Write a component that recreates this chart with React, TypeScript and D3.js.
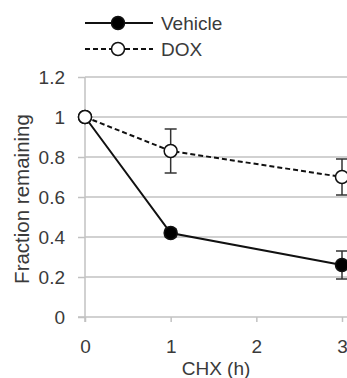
import React, { useEffect, useRef } from "react";
import * as d3 from "d3";

const hours = [0, 1, 3];
const vehicle = [1, 0.42, 0.26];
const vehicleErr = [0, 0.02, 0.07];
const dox = [1, 0.83, 0.7];
const doxErr = [0, 0.11, 0.09];
const yTicks = [0, 0.2, 0.4, 0.6, 0.8, 1, 1.2];
const xTicks = [0, 1, 2, 3];

const W = 347;
const H = 378;

const App = () => {
  const svgRef = useRef<SVGSVGElement>(null);

  useEffect(() => {
    const svg = d3.select(svgRef.current);
    svg.selectAll("*").remove();

    const x = d3.scaleLinear().domain([0, 3]).range([85, 342]);
    const y = d3.scaleLinear().domain([0, 1.2]).range([317, 77]);
    const font = "Liberation Sans, Arial, sans-serif";
    const grid = "#c2c2c2";
    const textCol = "#3a3a3a";

    // gridlines
    svg
      .append("g")
      .selectAll("line")
      .data(yTicks.filter((d) => d > 0))
      .enter()
      .append("line")
      .attr("x1", x(0))
      .attr("x2", 347)
      .attr("y1", (d) => y(d))
      .attr("y2", (d) => y(d))
      .attr("stroke", grid)
      .attr("stroke-width", 1.5);

    // axes
    const yAxis = svg.append("g").attr("transform", `translate(${x(0)},0)`);
    yAxis
      .call(d3.axisLeft(y).tickValues(yTicks).tickSize(7).tickPadding(13).tickFormat((d) => d3.format("")(+d)))
      .call((g) => g.select(".domain").attr("stroke", grid).attr("stroke-width", 1.5).attr("d", `M0,${y(0) + 5}V${y(1.2)}`));
    yAxis.selectAll(".tick line").attr("stroke", grid).attr("stroke-width", 1.5);

    const xAxis = svg.append("g").attr("transform", `translate(0,${y(0)})`);
    xAxis
      .call(d3.axisBottom(x).tickValues(xTicks).tickSize(5).tickPadding(18).tickFormat((d) => String(d)))
      .call((g) => g.select(".domain").attr("stroke", grid).attr("stroke-width", 1.5).attr("d", `M${x(0) - 7},0H347`));
    xAxis.selectAll(".tick line").attr("stroke", grid).attr("stroke-width", 1.5);

    svg
      .selectAll(".tick text")
      .attr("font-family", font)
      .attr("font-size", 19)
      .attr("fill", textCol);

    // axis titles
    svg
      .append("text")
      .attr("x", 216)
      .attr("y", 375)
      .attr("text-anchor", "middle")
      .attr("font-family", font)
      .attr("font-size", 19)
      .attr("fill", textCol)
      .text("CHX (h)");

    svg
      .append("text")
      .attr("transform", "translate(29,199) rotate(-90)")
      .attr("text-anchor", "middle")
      .attr("font-family", font)
      .attr("font-size", 20.5)
      .attr("fill", textCol)
      .text("Fraction remaining");

    const series = [
      { vals: vehicle, err: vehicleErr, dash: null, fill: "#000" },
      { vals: dox, err: doxErr, dash: "5,3", fill: "#fff" },
    ];

    const line = d3
      .line<number>()
      .x((_, i) => x(hours[i]))
      .y((d) => y(d));

    series.forEach((s) => {
      const g = svg.append("g");
      // error bars
      s.vals.forEach((v, i) => {
        if (!s.err[i]) return;
        const cx = x(hours[i]);
        const eb = g.append("g").attr("stroke", "#333").attr("stroke-width", 1.5);
        eb.append("line").attr("x1", cx).attr("x2", cx).attr("y1", y(v - s.err[i])).attr("y2", y(v + s.err[i]));
        [v - s.err[i], v + s.err[i]].forEach((e) =>
          eb.append("line").attr("x1", cx - 6).attr("x2", cx + 6).attr("y1", y(e)).attr("y2", y(e))
        );
      });
      g.append("path")
        .attr("d", line(s.vals))
        .attr("fill", "none")
        .attr("stroke", "#111")
        .attr("stroke-width", 2)
        .attr("stroke-dasharray", s.dash);
      g.selectAll("circle")
        .data(s.vals)
        .enter()
        .append("circle")
        .attr("cx", (_, i) => x(hours[i]))
        .attr("cy", (d) => y(d))
        .attr("r", 6.5)
        .attr("fill", s.fill)
        .attr("stroke", "#111")
        .attr("stroke-width", 1.5);
    });

    // legend
    const legend = [
      { label: "Vehicle", dash: null, fill: "#000", yy: 23 },
      { label: "DOX", dash: "5,3", fill: "#fff", yy: 49 },
    ];
    legend.forEach((l) => {
      svg
        .append("line")
        .attr("x1", 85)
        .attr("x2", 153)
        .attr("y1", l.yy)
        .attr("y2", l.yy)
        .attr("stroke", "#111")
        .attr("stroke-width", 2)
        .attr("stroke-dasharray", l.dash);
      svg
        .append("circle")
        .attr("cx", 118)
        .attr("cy", l.yy)
        .attr("r", 6.5)
        .attr("fill", l.fill)
        .attr("stroke", "#111")
        .attr("stroke-width", 1.5);
      svg
        .append("text")
        .attr("x", 161)
        .attr("y", l.yy + 7)
        .attr("font-family", font)
        .attr("font-size", 19)
        .attr("fill", textCol)
        .text(l.label);
    });
  }, []);

  return (
    <svg
      ref={svgRef}
      width={W}
      height={H}
      style={{ position: "absolute", left: 0, top: 0, background: "#fff" }}
    />
  );
};

export default App;
